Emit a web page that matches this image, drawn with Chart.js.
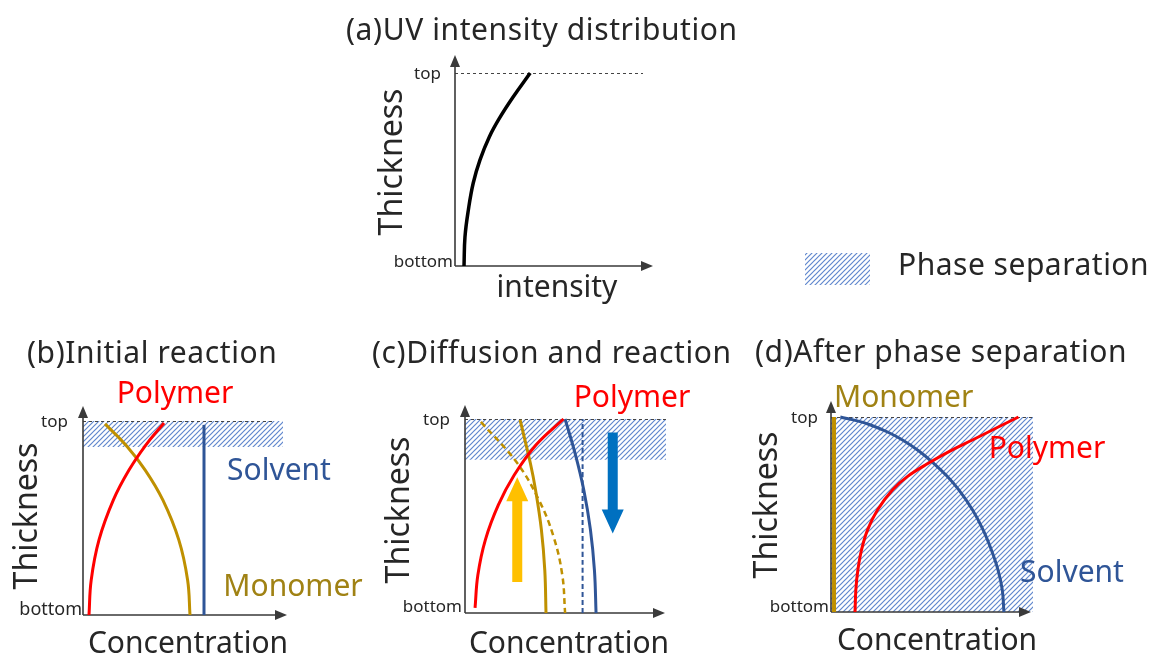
<!DOCTYPE html>
<html>
<head>
<meta charset="utf-8">
<title>Photopolymerization-induced phase separation</title>
<script src="https://cdn.jsdelivr.net/npm/chart.js@4.4.1/dist/chart.umd.min.js"></script>
<style>
  html, body { margin: 0; padding: 0; background: #fff; }
  #page { position: relative; width: 1151px; height: 654px; overflow: hidden; }
  .panel { position: absolute; }
</style>
</head>
<body>
<div id="page"></div>
<script>
// thickness: 0 = bottom, 1 = top; concentration / intensity on a 0..10 scale
const uvCurve = [[0.48, 0], [0.53, 0.15], [0.71, 0.29], [0.97, 0.43], [1.33, 0.55], [1.83, 0.67], [2.39, 0.77], [3.1, 0.877], [4.0, 1]];

const polymerInitial = [[0.3, 0], [0.41, 0.18], [0.8, 0.387], [1.52, 0.593], [2.3, 0.747], [3.14, 0.876], [4.05, 0.99]];
const monomerInitial = [[1.1, 0.985], [2.14, 0.876], [3.11, 0.747], [3.99, 0.593], [4.79, 0.387], [5.23, 0.18], [5.35, 0]];
const solventInitial = [[6.05, 0], [6.05, 0.98]];
const bandInitial = [0.866, 1];

const polymerDiffusion = [[0.5, 0.026], [0.64, 0.196], [1.01, 0.376], [1.66, 0.557], [2.45, 0.711], [3.53, 0.866], [4.9, 1]];
const monomerDiffusion = [[2.74, 0.995], [3.25, 0.773], [3.51, 0.634], [3.8, 0.43], [3.97, 0.22], [4.03, 0]];
const monomerBefore = [[0.79, 0.985], [2.56, 0.778], [3.68, 0.582], [4.41, 0.392], [4.84, 0.196], [4.98, 0]];
const solventDiffusion = [[4.98, 1], [5.5, 0.814], [5.91, 0.634], [6.24, 0.43], [6.44, 0.22], [6.52, 0]];
const solventBefore = [[5.85, 0], [5.85, 1]];
const monomerFlow = [[2.6, 0.16], [2.6, 0.70]];
const solventFlow = [[7.35, 0.93], [7.35, 0.41]];
const bandDiffusion = [0.79, 1];

const monomerFinal = [[0.15, 0], [0.15, 1]];
const polymerFinal = [
  [1.19, 0], [1.23, 0.113], [1.33, 0.215], [1.51, 0.318], [1.81, 0.421], [2.3, 0.523], [3.04, 0.626],
  [3.81, 0.697], [4.84, 0.764], [5.91, 0.826], [7.0, 0.882], [7.79, 0.923], [8.48, 0.959], [9.28, 1]
];
const solventFinal = [
  [0.46, 1], [1.35, 0.979], [1.96, 0.959], [2.8, 0.923], [3.54, 0.882], [4.35, 0.826], [5.07, 0.764], [5.74, 0.697],
  [6.33, 0.626], [7.01, 0.523], [7.53, 0.421], [7.94, 0.318], [8.27, 0.215], [8.48, 0.113], [8.56, 0]
];
const bandFinal = [0, 1];

const RED = '#FF0000';
const GOLD = '#BF9000';
const GOLD_TEXT = '#A08214';
const NAVY = '#2F5597';
const TEXT = '#262626';
const AXIS = '#3a3a3a';
const FONT = "'Noto Sans', sans-serif";

function curve(points, color, width, dash) {
  return {
    data: points.map(([x, y]) => ({ x, y })),
    showLine: true,
    borderColor: color,
    borderWidth: width,
    borderDash: dash || [],
    pointRadius: 0,
    tension: 0.4,
    fill: false,
    clip: false
  };
}

function hatch(ctx) {
  const tile = document.createElement('canvas');
  tile.width = tile.height = 5;
  const t = tile.getContext('2d');
  t.strokeStyle = 'rgba(68,114,196,0.85)';
  t.lineWidth = 1.2;
  t.beginPath();
  t.moveTo(0, 5); t.lineTo(5, 0);
  t.moveTo(-1, 1); t.lineTo(1, -1);
  t.moveTo(4, 6); t.lineTo(6, 4);
  t.stroke();
  return ctx.createPattern(tile, 'repeat');
}

function arrowHead(ctx, x, y, dir, len, half) {
  ctx.beginPath();
  if (dir === 'up') { ctx.moveTo(x, y); ctx.lineTo(x - half, y + len); ctx.lineTo(x + half, y + len); }
  else { ctx.moveTo(x, y); ctx.lineTo(x - len, y - half); ctx.lineTo(x - len, y + half); }
  ctx.closePath();
  ctx.fill();
}

// fat block arrow between two data points (vertical)
function blockArrow(chart, pts, color) {
  const { ctx, scales } = chart;
  const x = scales.x.getPixelForValue(pts[0][0]);
  const y0 = scales.y.getPixelForValue(pts[0][1]);
  const y1 = scales.y.getPixelForValue(pts[1][1]);
  const dir = Math.sign(y1 - y0);
  const head = 24, shaft = 5, wing = 11;
  const yb = y1 - dir * head;
  ctx.save();
  ctx.fillStyle = color;
  ctx.beginPath();
  ctx.moveTo(x - shaft, y0);
  ctx.lineTo(x - shaft, yb);
  ctx.lineTo(x - wing, yb);
  ctx.lineTo(x, y1);
  ctx.lineTo(x + wing, yb);
  ctx.lineTo(x + shaft, yb);
  ctx.lineTo(x + shaft, y0);
  ctx.closePath();
  ctx.fill();
  ctx.restore();
}

function label(ctx, t, ox, oy) {
  ctx.save();
  ctx.font = `${t.size || 30}px ${FONT}`;
  ctx.fillStyle = t.color || TEXT;
  ctx.textAlign = t.align || 'left';
  ctx.textBaseline = 'alphabetic';
  if (t.spacing) ctx.letterSpacing = t.spacing;
  ctx.translate(t.x - ox, t.y - oy);
  if (t.rotate) ctx.rotate(-Math.PI / 2);
  ctx.fillText(t.text, 0, 0);
  ctx.restore();
}

function panel(cfg) {
  const [bx, by, bw, bh] = cfg.box;
  const [al, at, ar, ab] = cfg.area;
  const holder = document.createElement('div');
  holder.className = 'panel';
  Object.assign(holder.style, { left: bx + 'px', top: by + 'px', width: bw + 'px', height: bh + 'px' });
  const canvas = document.createElement('canvas');
  holder.appendChild(canvas);
  document.getElementById('page').appendChild(holder);

  const sketch = {
    id: 'sketch',
    beforeDatasetsDraw(chart) {
      const { ctx, chartArea: a, scales } = chart;
      ctx.save();
      if (cfg.band) {
        const y0 = scales.y.getPixelForValue(cfg.band[1]);
        const y1 = scales.y.getPixelForValue(cfg.band[0]);
        ctx.fillStyle = hatch(ctx);
        ctx.fillRect(a.left, y0, a.right - a.left, y1 - y0);
      }
      // dashed "top" level
      ctx.strokeStyle = '#444';
      ctx.lineWidth = 1;
      ctx.setLineDash([3, 3]);
      ctx.beginPath();
      ctx.moveTo(a.left, a.top + 0.5);
      ctx.lineTo(cfg.topEnd - bx, a.top + 0.5);
      ctx.stroke();
      ctx.setLineDash([]);
      // axes with arrow heads
      ctx.strokeStyle = AXIS;
      ctx.fillStyle = AXIS;
      ctx.lineWidth = 1.6;
      const yTip = cfg.yTip - by, xTip = cfg.xTip - bx;
      ctx.beginPath();
      ctx.moveTo(a.left, a.bottom);
      ctx.lineTo(a.left, yTip + 8);
      ctx.moveTo(a.left, a.bottom);
      ctx.lineTo(xTip - 8, a.bottom);
      ctx.stroke();
      arrowHead(ctx, a.left, yTip, 'up', 12, 5);
      arrowHead(ctx, xTip, a.bottom, 'right', 12, 5);
      ctx.restore();
    },
    afterDatasetsDraw(chart) {
      (cfg.flows || []).forEach(f => blockArrow(chart, f.pts, f.color));
    },
    afterDraw(chart) {
      const ctx = chart.ctx;
      if (cfg.legend) {
        const [l, t, r, b] = cfg.legend;
        ctx.save();
        ctx.fillStyle = hatch(ctx);
        ctx.fillRect(l - bx, t - by, r - l, b - t);
        ctx.restore();
      }
      cfg.texts.forEach(t => label(ctx, t, bx, by));
    }
  };

  return new Chart(canvas, {
    type: 'scatter',
    data: { datasets: cfg.datasets },
    options: {
      responsive: true,
      maintainAspectRatio: false,
      animation: false,
      events: [],
      layout: { padding: { left: al - bx, top: at - by, right: bx + bw - ar, bottom: by + bh - ab } },
      plugins: { legend: { display: false }, tooltip: { enabled: false } },
      scales: {
        x: { type: 'linear', display: false, min: 0, max: 10 },
        y: { type: 'linear', display: false, min: 0, max: 1 }
      }
    },
    plugins: [sketch]
  });
}

function tickLabels(topX, topY, botX, botY, botSize) {
  return [
    { text: 'top', x: topX, y: topY, size: 17, align: 'right' },
    { text: 'bottom', x: botX, y: botY, size: botSize || 17, align: 'right' }
  ];
}

// (a) UV intensity through the film, plus the shared legend
panel({
  box: [330, 0, 821, 320],
  area: [455, 73, 643, 266],
  yTip: 55, xTip: 653, topEnd: 643,
  legend: [805, 253, 870, 285],
  datasets: [curve(uvCurve, '#000', 3.5)],
  texts: [
    { text: '(a)UV intensity distribution', x: 346, y: 40, spacing: '0.6px' },
    { text: 'Thickness', x: 402, y: 162, align: 'center', rotate: true, size: 32 },
    { text: 'intensity', x: 557, y: 297, align: 'center' },
    { text: 'Phase separation', x: 898, y: 275, spacing: '0.5px' },
    ...tickLabels(441, 79, 453, 267)
  ]
});

// (b) initial reaction
panel({
  box: [0, 325, 370, 329],
  area: [83, 421, 283, 615],
  yTip: 406, xTip: 287, topEnd: 273,
  band: bandInitial,
  datasets: [
    curve(polymerInitial, RED, 3),
    curve(monomerInitial, GOLD, 3),
    curve(solventInitial, NAVY, 3)
  ],
  texts: [
    { text: '(b)Initial reaction', x: 27, y: 363, spacing: '0.6px' },
    { text: 'Thickness', x: 37, y: 516, align: 'center', rotate: true, size: 32 },
    { text: 'Concentration', x: 188, y: 653, align: 'center' },
    { text: 'Polymer', x: 175, y: 403, align: 'center', color: RED },
    { text: 'Solvent', x: 279, y: 480, align: 'center', color: NAVY },
    { text: 'Monomer', x: 293, y: 596, align: 'center', color: GOLD_TEXT },
    ...tickLabels(68, 427, 82, 615, 18)
  ]
});

// (c) diffusion and reaction
panel({
  box: [370, 325, 375, 329],
  area: [465, 419, 666, 613],
  yTip: 405, xTip: 665, topEnd: 666,
  band: bandDiffusion,
  flows: [
    { pts: monomerFlow, color: '#FFC000' },
    { pts: solventFlow, color: '#0070C0' }
  ],
  datasets: [
    curve(polymerDiffusion, RED, 3),
    curve(monomerDiffusion, GOLD, 3),
    curve(monomerBefore, GOLD, 2.5, [6, 4]),
    curve(solventDiffusion, NAVY, 3),
    curve(solventBefore, NAVY, 2, [5, 3])
  ],
  texts: [
    { text: '(c)Diffusion and reaction', x: 372, y: 363, spacing: '0.6px' },
    { text: 'Thickness', x: 409, y: 510, align: 'center', rotate: true, size: 32 },
    { text: 'Concentration', x: 569, y: 653, align: 'center' },
    { text: 'Polymer', x: 632, y: 407, align: 'center', color: RED },
    ...tickLabels(450, 425, 462, 612)
  ]
});

// (d) after phase separation
panel({
  box: [745, 325, 406, 329],
  area: [831, 417, 1033, 612],
  yTip: 401, xTip: 1031, topEnd: 1033,
  band: bandFinal,
  datasets: [
    curve(polymerFinal, RED, 3),
    curve(solventFinal, NAVY, 3),
    curve(monomerFinal, GOLD, 4)
  ],
  texts: [
    { text: '(d)After phase separation', x: 755, y: 362, spacing: '0.6px' },
    { text: 'Thickness', x: 777, y: 505, align: 'center', rotate: true, size: 32 },
    { text: 'Concentration', x: 937, y: 650, align: 'center' },
    { text: 'Monomer', x: 834, y: 407, color: GOLD_TEXT },
    { text: 'Polymer', x: 1047, y: 458, align: 'center', color: RED },
    { text: 'Solvent', x: 1072, y: 582, align: 'center', color: NAVY },
    ...tickLabels(818, 423, 829, 612)
  ]
});
</script>
</body>
</html>
